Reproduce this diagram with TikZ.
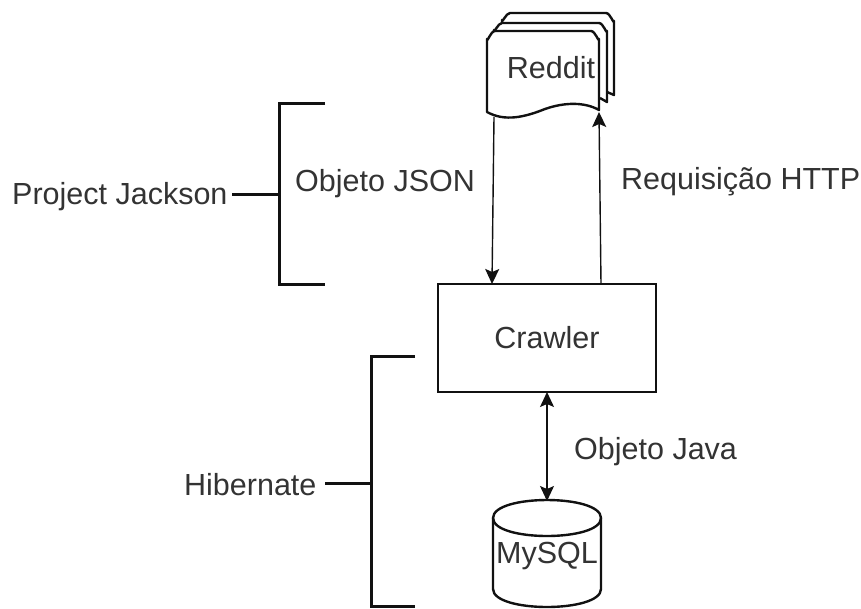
\documentclass[tikz,border=0pt]{standalone}
\usepackage{fontspec}
\setmainfont{Liberation Sans}
\usetikzlibrary{arrows.meta}
\definecolor{ink}{HTML}{111111}
\definecolor{txt}{HTML}{333333}
\tikzset{
  x=1pt,y=-1pt,
  lbl/.style={text=txt,font=\fontsize{30.5}{34}\selectfont,inner sep=0pt,anchor=west},
  shape line/.style={draw=ink,line width=2.4pt,line join=round},
  thin box/.style={draw=ink,line width=1.6pt},
  brace line/.style={draw=ink,line width=3pt,line join=miter},
  link/.style={draw=ink,line width=1.4pt},
  tip/.style={-{Stealth[length=15pt,width=14pt,inset=3pt]}},
  both tips/.style={{Stealth[length=15pt,width=14pt,inset=3pt]}-{Stealth[length=15pt,width=14pt,inset=3pt]}},
}
\begin{document}
\begin{tikzpicture}
\useasboundingbox (0,0) rectangle (861,608);
% Reddit stacked document
\draw[shape line,fill=white] (502,95) -- (502,20) to[out=-90,in=180] (510,13) -- (606,13) to[out=0,in=-90] (614,21) -- (614,95) -- (607,92);
\draw[shape line,fill=white] (494,100) -- (494,30) to[out=-90,in=180] (502,23) -- (599,23) to[out=0,in=-90] (607,31) -- (607,102) -- (600,98);
\draw[shape line,fill=white] (487,112) -- (487,39) to[out=-90,in=180] (495,31) -- (591,31) to[out=0,in=-90] (599,39) -- (599,110)
  .. controls (585,102) and (565,102) .. (545,109)
  .. controls (525,117) and (505,122) .. (487,112) -- cycle;
\node[lbl,anchor=center] (reddit) at (551,68) {Reddit};
\coordinate (redditout) at (494,117);
\coordinate (redditin) at (599,112);
% Crawler
\node[thin box,minimum width=218pt,minimum height=108pt,inner sep=0pt,text=txt,font=\fontsize{30.5}{34}\selectfont] (crawler) at (547,338) {Crawler};
\coordinate (crawlerin) at (492,284);
\coordinate (crawlerout) at (601,284);
\coordinate (crawlerdown) at (547,392);
% MySQL cylinder
\draw[shape line,fill=white] (493,518) .. controls (493,494) and (601,494) .. (601,518)
  -- (601,589) .. controls (601,613) and (493,613) .. (493,589) -- cycle;
\draw[shape line] (493,518) .. controls (493,542) and (601,542) .. (601,518);
\node[lbl,anchor=center] (mysql) at (547,556) {MySQL};
\coordinate (mysqltop) at (547,501);
% Connectors
\draw[link,tip] (redditout) -- (crawlerin);
\draw[link,tip] (crawlerout) -- (redditin);
\draw[link,both tips] (crawlerdown) -- (mysqltop);
% Brackets
\coordinate (ba) at (325,103);
\coordinate (bb) at (279,103);
\coordinate (bc) at (279,284);
\coordinate (bd) at (325,284);
\coordinate (bm) at (279,194);
\draw[brace line] (ba) -- (bb) -- (bc) -- (bd);
\coordinate (ca) at (415,356);
\coordinate (cb) at (371,356);
\coordinate (cc) at (371,606);
\coordinate (cd) at (415,606);
\coordinate (cm) at (371,483);
\draw[brace line] (ca) -- (cb) -- (cc) -- (cd);
% Labels
\node[lbl] (pj) at (12,197) {Project Jackson};
\node[lbl] (json) at (295,184) {Objeto JSON};
\node[lbl] (http) at (621,182) {Requisição HTTP};
\node[lbl] (hib) at (184,485) {Hibernate};
\node[lbl] (java) at (574,452) {Objeto Java};
\coordinate (pjstub) at (232,194);
\coordinate (hibstub) at (325,483);
\draw[brace line] (pjstub) -- (bm);
\draw[brace line] (hibstub) -- (cm);
\end{tikzpicture}
\end{document}
